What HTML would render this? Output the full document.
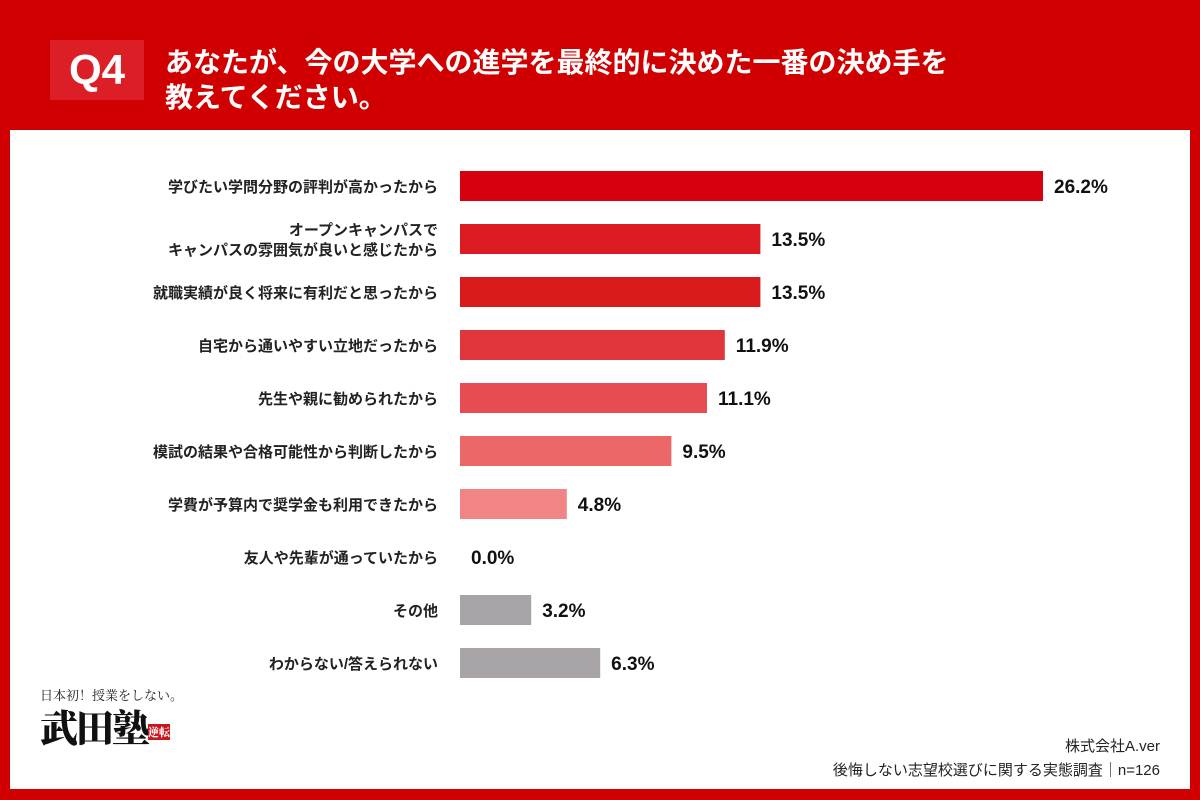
<!DOCTYPE html>
<html><head><meta charset="utf-8"><style>
body{margin:0;width:1200px;height:800px;background:#d10000;font-family:"Liberation Sans","Noto Sans CJK JP",sans-serif;overflow:hidden;position:relative}
.panel{position:absolute;left:10px;top:130px;width:1180px;height:659px;background:#fff}
.q{position:absolute;left:50px;top:40px;width:94px;height:60px;background:#dc1f26;color:#fff;font-weight:bold;font-size:42px;line-height:60px;text-align:center}
.title{position:absolute;left:165px;top:45px;color:#fff;font-weight:bold;font-size:28px;line-height:35px}
svg{position:absolute;left:0;top:0}
.foot{position:absolute;right:40px;top:735px;text-align:right;font-size:15px;line-height:24px;color:#222}
.logo{position:absolute;left:40px;top:685px}
</style></head><body>
<div class="panel"></div>
<div class="q">Q4</div>
<div class="title">あなたが、今の大学への進学を最終的に決めた一番の決め手を<br>教えてください。</div>
<svg id="chart" width="1200" height="800"></svg>
<div class="logo">
<div style="font-family:'Noto Serif CJK SC',serif;font-size:13px;color:#222">日本初！授業をしない。</div>
<div style="font-family:'Noto Serif CJK SC',serif;font-size:38px;font-weight:900;color:#111;line-height:44px;letter-spacing:-2px">武田塾<span style="font-size:11px;color:#fff;background:#c8161d;vertical-align:middle;letter-spacing:0">逆転</span></div>
</div>
<div class="foot">株式会社A.ver<br>後悔しない志望校選びに関する実態調査｜n=126</div>
<script>
const categories=["学びたい学問分野の評判が高かったから","オープンキャンパスで\nキャンパスの雰囲気が良いと感じたから","就職実績が良く将来に有利だと思ったから","自宅から通いやすい立地だったから","先生や親に勧められたから","模試の結果や合格可能性から判断したから","学費が予算内で奨学金も利用できたから","友人や先輩が通っていたから","その他","わからない/答えられない"];
const values=[26.2,13.5,13.5,11.9,11.1,9.5,4.8,0.0,3.2,6.3];
const colors=["#d7000f","#dc1a22","#d91b1b","#e0363b","#e64c51","#ec6868","#f28485","#f28485","#a8a3a7","#a8a3a7"];
const svg=document.getElementById('chart');
const NS='http://www.w3.org/2000/svg';
const x0=460,scale=583/26.2,y0=186,step=53.0,bh=30;
const x=v=>x0+v*scale;
const y=i=>y0+i*step;
categories.forEach((c,i)=>{
  const cy=y(i);
  if(values[i]>0){
    const r=document.createElementNS(NS,'rect');
    r.setAttribute('x',x0);r.setAttribute('y',cy-bh/2);
    r.setAttribute('width',x(values[i])-x0);r.setAttribute('height',bh);
    r.setAttribute('fill',colors[i]);
    
    
    svg.appendChild(r);
  }
  const lines=c.split('\n');
  lines.forEach((l,j)=>{
    const t=document.createElementNS(NS,'text');
    t.setAttribute('x',438);
    t.setAttribute('y',cy+6+(j-(lines.length-1)/2)*20);
    t.setAttribute('text-anchor','end');
    t.setAttribute('font-size','15');t.setAttribute('font-weight','bold');t.setAttribute('fill','#222');
    t.textContent=l;
    
    
    svg.appendChild(t);
  });
  const v=document.createElementNS(NS,'text');
  v.setAttribute('x',x(values[i])+11);v.setAttribute('y',cy+7);
  v.setAttribute('font-size','19');v.setAttribute('font-weight','bold');v.setAttribute('fill','#111');
  v.textContent=values[i].toFixed(1)+'%';
  
  
  svg.appendChild(v);
});
</script>
</body></html>
